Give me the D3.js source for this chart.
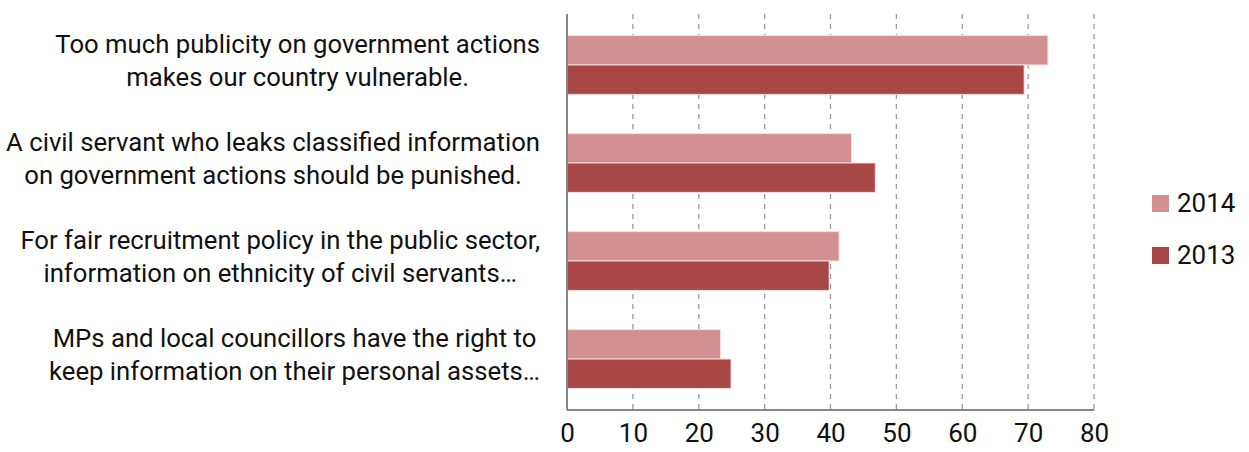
<!DOCTYPE html>
<html>
<head>
<meta charset="utf-8">
<script src="https://cdn.jsdelivr.net/npm/d3@7"></script>
<style>
  html, body { margin: 0; padding: 0; background: #fff; }
  svg { display: block; }
  text { font-family: Roboto, "Liberation Sans", sans-serif; fill: #111; }
</style>
</head>
<body>
<svg id="chart" width="1249" height="452"></svg>
<script>
const categories = [
  ["Too much publicity on government actions", "makes our country vulnerable."],
  ["A civil servant who leaks classified information", "on government actions should be punished."],
  ["For fair recruitment policy in the public sector,", "information on ethnicity of civil servants…"],
  ["MPs and local councillors have the right to", "keep information on their personal assets…"]
];
const seriesNames = ["2014", "2013"];
const values2014 = [73, 43.2, 41.3, 23.3];
const values2013 = [69.4, 46.8, 39.8, 24.9];
const xTicks = [0, 10, 20, 30, 40, 50, 60, 70, 80];
const colors = ["#D29190", "#A84745"];

(function () {
const svg = d3.select("#chart");
const mLeft = 567, mRight = 1094, mTop = 14, mBottom = 410;

const x = d3.scaleLinear().domain([0, 80]).range([mLeft, mRight]);
const catIdx = categories.map((d, i) => i);
const y0 = d3.scaleBand().domain(catIdx).range([mTop, mBottom]).paddingInner(0.4).paddingOuter(0.22);
const y1 = d3.scaleBand().domain(seriesNames).range([0, y0.bandwidth()]).padding(0);
const seriesValues = { "2014": values2014, "2013": values2013 };

// gridlines
svg.append("g").selectAll("line").data(xTicks.filter(t => t > 0)).join("line")
  .attr("x1", d => x(d)).attr("x2", d => x(d))
  .attr("y1", mTop).attr("y2", mBottom)
  .attr("stroke", "#9a9a9a").attr("stroke-width", 1.3).attr("stroke-dasharray", "5,5");

// bars
const groups = svg.append("g").selectAll("g").data(catIdx).join("g")
  .attr("transform", d => `translate(0,${y0(d)})`);
groups.selectAll("rect").data(i => seriesNames.map(s => ({ s, v: seriesValues[s][i] }))).join("rect")
  .attr("x", x(0))
  .attr("y", d => y1(d.s))
  .attr("width", d => x(d.v) - x(0))
  .attr("height", y1.bandwidth())
  .attr("fill", (d) => colors[seriesNames.indexOf(d.s)])
  .attr("stroke", "#f4dede").attr("stroke-width", 1);

// axes lines
svg.append("line").attr("x1", x(0)).attr("x2", x(0)).attr("y1", mTop).attr("y2", mBottom)
  .attr("stroke", "#868686").attr("stroke-width", 2);
svg.append("line").attr("x1", x(0)).attr("x2", x(80)).attr("y1", mBottom).attr("y2", mBottom)
  .attr("stroke", "#868686").attr("stroke-width", 2);

// tick labels
const xAxis = d3.axisBottom(x).tickValues(xTicks).tickSize(0).tickPadding(0);
const ax = svg.append("g").attr("transform", `translate(0,${mBottom})`).call(xAxis);
ax.select(".domain").remove();
ax.selectAll("text").attr("font-size", 26).attr("font-family", "Roboto, sans-serif")
  .attr("fill", "#111").attr("dy", null).attr("y", 32);

// category labels
const labelRight = 540;
const lab = svg.append("g").selectAll("text").data(catIdx).join("text")
  .attr("font-size", 25.7).attr("text-anchor", "middle");
lab.each(function(i) {
  const t = d3.select(this);
  const cy = y0(i) + y0.bandwidth() / 2;
  categories[i].forEach((line, k) => {
    t.append("tspan").attr("y", cy - 16 + k * 33 + 4).text(line);
  });
  let maxW = 0;
  t.selectAll("tspan").each(function() { maxW = Math.max(maxW, this.getComputedTextLength()); });
  t.selectAll("tspan").attr("x", labelRight - maxW / 2);
});

// legend
const legend = svg.append("g").selectAll("g").data(seriesNames).join("g")
  .attr("transform", (d, i) => `translate(1152,${195 + i * 52})`);
legend.append("rect").attr("width", 17).attr("height", 17).attr("fill", (d, i) => colors[i]);
legend.append("text").attr("x", 25).attr("y", 17).attr("font-size", 26).text(d => d);
})();
</script>
</body>
</html>
